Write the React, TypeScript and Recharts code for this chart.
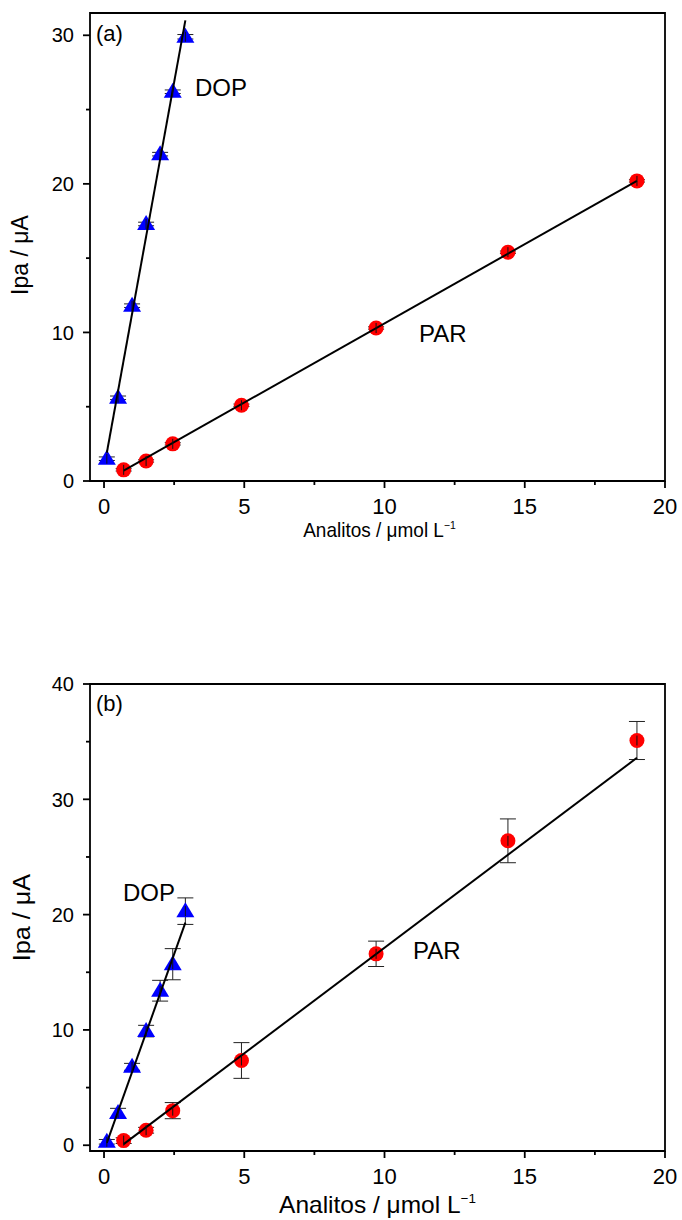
import React from 'react';
import { ScatterChart, Scatter, XAxis, YAxis, ErrorBar, ReferenceArea } from 'recharts';

// ---------- data ----------
const dopX = [0.1, 0.5, 1.0, 1.5, 2.0, 2.45, 2.9];
const parX = [0.7, 1.5, 2.45, 4.9, 9.7, 14.4, 19.0];

// panel (a)
const dopA = [1.5, 5.6, 11.8, 17.3, 22.0, 26.2, 29.9];
const dopAErr = [0.12, 0.12, 0.12, 0.12, 0.12, 0.12, 0.15];
const parA = [0.75, 1.35, 2.5, 5.1, 10.3, 15.4, 20.2];
const parAErr = [0.08, 0.08, 0.08, 0.08, 0.08, 0.08, 0.08];
const fitDopAX = [0.1, 2.9];
const fitDopAY = [1.9, 31.0];
const fitParAX = [0.7, 19.0];
const fitParAY = [0.7, 20.2];

// panel (b)
const dopB = [0.3, 2.8, 6.8, 9.9, 13.4, 15.7, 20.3];
const dopBErr = [0.2, 0.4, 0.3, 0.5, 0.9, 1.35, 1.15];
const parB = [0.4, 1.3, 3.0, 7.35, 16.6, 26.4, 35.1];
const parBErr = [0.25, 0.25, 0.7, 1.55, 1.1, 1.9, 1.65];
const fitDopBX = [0.1, 2.9];
const fitDopBY = [0.2, 19.3];
const fitParBX = [0.7, 19.0];
const fitParBY = [0.1, 33.6];

const xTicks = [0, 2.5, 5, 7.5, 10, 12.5, 15, 17.5, 20];
const yTicksA = [0, 5, 10, 15, 20, 25, 30];
const yTicksB = [0, 5, 10, 15, 20, 25, 30, 35, 40];
const xTitle = 'Analitos / μmol L';
const xTitleSup = '−1';
const yTitle = 'Ipa / μA';

const FONT = 'Liberation Sans, Arial, Helvetica, sans-serif';
const AXW = 1.8;

const pts = (xs: number[], ys: number[], es?: number[]) =>
  xs.map((x, i) => ({ x, y: ys[i], err: es ? es[i] : 0 }));

// ---------- shapes ----------
const Circle = (p: any) => <circle cx={p.cx} cy={p.cy} r={7.5} fill="#ff0000" />;
const Triangle = (p: any) => {
  const w = 18, h = 15;
  const { cx, cy } = p;
  return (
    <polygon
      points={`${cx},${cy - h * 0.6} ${cx - w / 2},${cy + h * 0.4} ${cx + w / 2},${cy + h * 0.4}`}
      fill="#0000ff"
    />
  );
};
const Empty = () => <g />;
const Stem = (p: any) => (
  <line x1={p.cx} x2={p.cx} y1={p.cy - 5} y2={p.cy + 5} stroke="#111" strokeWidth={1} />
);

// ---------- ticks ----------
const YTick = (p: any) => {
  const { x, y, payload } = p;
  const major = payload.value % 10 === 0;
  return (
    <g>
      <line x1={x} x2={x - (major ? 7 : 4)} y1={y} y2={y} stroke="#000" strokeWidth={AXW} />
      {major && (
        <text x={x - 16} y={y} dy="0.36em" textAnchor="end" fontSize={20} fontFamily={FONT} fill="#000">
          {payload.value}
        </text>
      )}
    </g>
  );
};
const XTick = (p: any) => {
  const { x, y, payload } = p;
  const major = payload.value % 5 === 0;
  return (
    <g>
      <line x1={x} x2={x} y1={y} y2={y + (major ? 7 : 4)} stroke="#000" strokeWidth={AXW} />
      {major && (
        <text x={x} y={y + 33} textAnchor="middle" fontSize={22} fontFamily={FONT} fill="#000">
          {payload.value}
        </text>
      )}
    </g>
  );
};

const XTitle = (p: any) => {
  const vb = p.viewBox || {};
  const cx = vb.x + vb.width / 2 + (p.dx || 0);
  const y = vb.y + p.off;
  return (
    <text
      transform={`translate(${cx},${y}) scale(${p.sx},1)`}
      x={0}
      y={0}
      textAnchor="middle"
      fontSize={p.fs}
      fontFamily={FONT}
      fill="#000"
    >
      {xTitle}
      <tspan dy={-p.fs * 0.42} fontSize={p.fs * 0.55}>{xTitleSup}</tspan>
    </text>
  );
};
const YTitle = (p: any) => {
  const vb = p.viewBox || {};
  const cy = vb.y + vb.height / 2 + (p.dy || 0);
  const bx = p.bx;
  return (
    <text
      transform={`translate(${bx},${cy}) rotate(-90) scale(${p.sx},1)`}
      x={0}
      y={0}
      textAnchor="middle"
      fontSize={p.fs}
      fontFamily={FONT}
      fill="#000"
    >
      {yTitle}
    </text>
  );
};

type PanelProps = {
  height: number;
  xAxisH: number;
  yDomain: [number, number];
  yTicks: number[];
  dop: any[];
  par: any[];
  fitDop: any[];
  fitPar: any[];
  tag: string;
  tagY: number;
  dopLabel: [number, number];
  parLabel: [number, number];
  xt: { fs: number; sx: number; off: number; dx: number };
  yt: { fs: number; sx: number; bx: number; dy: number };
};

const Panel = (pp: PanelProps) => (
  <ScatterChart
    width={682}
    height={pp.height}
    margin={{ top: 13, right: 17, left: 0, bottom: 0 }}
  >
    <XAxis
      type="number"
      dataKey="x"
      domain={[-0.5, 20]}
      ticks={xTicks}
      interval={0}
      allowDataOverflow
      axisLine={false}
      tickLine={false}
      tickSize={0}
      tickMargin={0}
      tick={<XTick />}
      height={pp.xAxisH}
      label={<XTitle fs={pp.xt.fs} sx={pp.xt.sx} off={pp.xt.off} dx={pp.xt.dx} />}
    />
    <YAxis
      type="number"
      dataKey="y"
      domain={pp.yDomain}
      ticks={pp.yTicks}
      interval={0}
      allowDataOverflow
      axisLine={false}
      tickLine={false}
      tickSize={0}
      tickMargin={0}
      tick={<YTick />}
      width={90}
      label={<YTitle fs={pp.yt.fs} sx={pp.yt.sx} bx={pp.yt.bx} dy={pp.yt.dy} />}
    />
    <ReferenceArea
      x1={-0.5}
      x2={20}
      y1={pp.yDomain[0]}
      y2={pp.yDomain[1]}
      fill="none"
      fillOpacity={0}
      stroke="#000"
      strokeWidth={AXW}
      ifOverflow="visible"
    />
    <Scatter data={pp.par} shape={<Circle />} isAnimationActive={false} />
    <Scatter data={pp.dop} shape={<Triangle />} isAnimationActive={false} />
    <Scatter
      data={pp.fitPar}
      shape={<Empty />}
      line={{ stroke: '#000', strokeWidth: 2 }}
      lineType="joint"
      isAnimationActive={false}
    />
    <Scatter
      data={pp.fitDop}
      shape={<Empty />}
      line={{ stroke: '#000', strokeWidth: 2 }}
      lineType="joint"
      isAnimationActive={false}
    />
    <Scatter data={pp.par} shape={<Stem />} isAnimationActive={false}>
      <ErrorBar dataKey="err" direction="y" width={8} stroke="#222" strokeWidth={1} />
    </Scatter>
    <Scatter data={pp.dop} shape={<Stem />} isAnimationActive={false}>
      <ErrorBar dataKey="err" direction="y" width={8} stroke="#222" strokeWidth={1} />
    </Scatter>
    <text x={96} y={pp.tagY} fontSize={22} fontFamily={FONT} fill="#000">{pp.tag}</text>
    <text x={pp.dopLabel[0]} y={pp.dopLabel[1]} fontSize={24} fontFamily={FONT} fill="#000">DOP</text>
    <text x={pp.parLabel[0]} y={pp.parLabel[1]} fontSize={24} fontFamily={FONT} fill="#000">PAR</text>
  </ScatterChart>
);

export default function App() {
  return (
    <div style={{ position: 'absolute', left: 0, top: 0, width: 682, height: 1220, background: '#fff' }}>
      <div style={{ position: 'absolute', left: 0, top: 0 }}>
        <Panel
          height={560}
          xAxisH={79}
          yDomain={[0, 31.5]}
          yTicks={yTicksA}
          dop={pts(dopX, dopA, dopAErr)}
          par={pts(parX, parA, parAErr)}
          fitDop={pts(fitDopAX, fitDopAY)}
          fitPar={pts(fitParAX, fitParAY)}
          tag="(a)"
          tagY={41}
          dopLabel={[195, 96]}
          parLabel={[419, 342]}
          xt={{ fs: 20, sx: 0.95, off: 56, dx: 2 }}
          yt={{ fs: 23, sx: 1, bx: 28, dy: 8 }}
        />
      </div>
      <div style={{ position: 'absolute', left: 0, top: 671 }}>
        <Panel
          height={549}
          xAxisH={69}
          yDomain={[-0.5, 40]}
          yTicks={yTicksB}
          dop={pts(dopX, dopB, dopBErr)}
          par={pts(parX, parB, parBErr)}
          fitDop={pts(fitDopBX, fitDopBY)}
          fitPar={pts(fitParBX, fitParBY)}
          tag="(b)"
          tagY={40}
          dopLabel={[123, 230]}
          parLabel={[413, 288]}
          xt={{ fs: 24, sx: 1.02, off: 62, dx: 0 }}
          yt={{ fs: 24, sx: 1.05, bx: 30, dy: 0 }}
        />
      </div>
    </div>
  );
}
